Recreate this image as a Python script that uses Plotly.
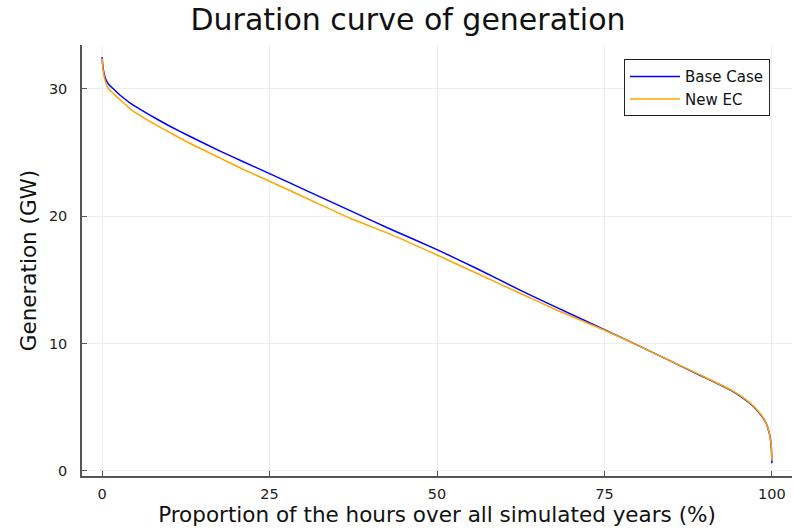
import plotly.graph_objects as go

# Proportion of hours (%) and generation (GW)
pct_base = [0, 0.1, 0.3, 0.6, 1.0, 1.8, 2.7, 4.3, 6, 8.3, 10.2, 13, 17.7, 21, 25, 31, 37.2, 43, 50,
            56, 62.4, 68, 75, 79.2, 84.2, 89.1, 94.1, 96.6, 98.1, 99.1, 99.6, 99.9, 100]
gen_base = [32.5, 31.9, 31.2, 30.7, 30.35, 29.95, 29.5, 28.85, 28.3, 27.6, 27.05, 26.3, 25.1, 24.3, 23.35,
            21.9, 20.4, 19.0, 17.38, 15.88, 14.2, 12.8, 11.1, 10.05, 8.8, 7.55, 6.26, 5.35, 4.57, 3.78,
            3.0, 1.95, 0.6]

pct_new = pct_base
gen_new = [32.4, 31.7, 31.0, 30.4, 30.0, 29.6, 29.15, 28.4, 27.8, 27.1, 26.55, 25.75, 24.55, 23.7, 22.75,
           21.3, 19.8, 18.6, 16.96, 15.5, 13.95, 12.6, 11.05, 10.05, 8.8, 7.58, 6.3, 5.4, 4.6, 3.8,
           3.0, 2.0, 0.8]

x_ticks = [0, 25, 50, 75, 100]
y_ticks = [0, 10, 20, 30]

font = "DejaVu Sans"
fig = go.Figure()
fig.add_trace(go.Scatter(x=pct_base, y=gen_base, mode="lines", name="Base Case",
                         line=dict(color="#0000ff", width=1.5, shape="spline", smoothing=0.5)))
fig.add_trace(go.Scatter(x=pct_new, y=gen_new, mode="lines", name="New EC",
                         line=dict(color="#ffa500", width=1.5, shape="spline", smoothing=0.5)))

axis_common = dict(showgrid=True, gridcolor="#efefef", gridwidth=1, zeroline=False,
                   showline=True, linecolor="#555555", linewidth=1.5,
                   ticks="inside", ticklen=5, tickcolor="#555555",
                   tickfont=dict(family=font, size=14.5, color="#222222"))

fig.update_layout(
    width=794, height=531,
    margin=dict(l=82, r=2, t=45, b=55),
    paper_bgcolor="white", plot_bgcolor="white",
    title=dict(text="Duration curve of generation", x=408 / 794, xref="container", xanchor="center",
               y=1 - 19 / 531, yref="container", yanchor="middle",
               font=dict(family=font, size=30, color="#111111")),
    xaxis=dict(range=[-3, 103], tickvals=x_ticks, ticklabelstandoff=4, **axis_common,
               title=dict(text="Proportion of the hours over all simulated years (%)",
                          font=dict(family=font, size=21.5, color="#111111"), standoff=6)),
    yaxis=dict(range=[-0.4, 33.45], tickvals=y_ticks, ticklabelstandoff=10, **axis_common,
               title=dict(text="Generation (GW)", font=dict(family=font, size=21.5, color="#111111"),
                          standoff=6)),
    legend=dict(x=0.969, y=0.967, xanchor="right", yanchor="top",
                bordercolor="#222222", borderwidth=1, bgcolor="white",
                font=dict(family=font, size=15, color="#111111"),
                tracegroupgap=0, itemwidth=50),
    showlegend=True,
)

fig.write_html("out.html")
